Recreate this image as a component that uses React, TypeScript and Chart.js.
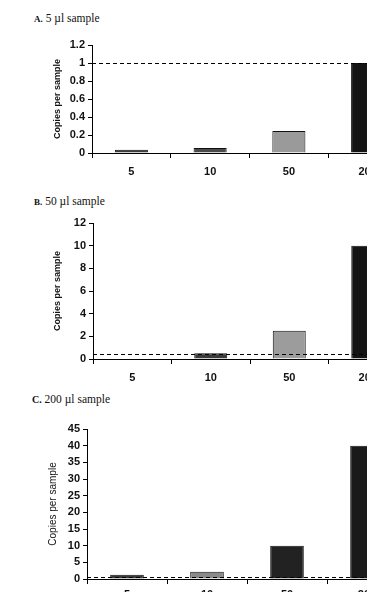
import React, { useEffect, useRef } from "react";
import { Chart, registerables } from "chart.js";
Chart.register(...registerables);

const categories = ["5", "10", "50", "200"];

const valuesA = [0.035, 0.055, 0.245, 1.0];
const valuesB = [0, 0.5, 2.5, 10];
const valuesC = [1.3, 2.2, 10, 40];

const thresholdA = 1;
const thresholdB = 0.45;
const thresholdC = 0.5;

const yMaxA = 1.2, yStepA = 0.2;
const yMaxB = 12, yStepB = 2;
const yMaxC = 45, yStepC = 5;

const titleA = "5 µl sample";
const titleB = "50 µl sample";
const titleC = "200 µl sample";
const yTitle = "Copies per sample";

const colorsA = ["#3c3c3c", "#4a4a4a", "#9a9a9a", "#141414"];
const colorsB = ["#333333", "#3a3a3a", "#9c9c9c", "#141414"];
const colorsC = ["#3a3a3a", "#8a8a8a", "#222222", "#1a1a1a"];

type PanelProps = {
  top: number;
  height: number;
  values: number[];
  colors: string[];
  threshold: number;
  yMax: number;
  yStep: number;
  padLeft: number;
  yWidth: number;
  padTop: number;
  xHeight: number;
  yTitleBold: boolean;
  yTitleSize: number;
  yTitlePad: number;
  tickSize: number;
  xLabelPad: number;
};

const dashedLine = {
  id: "dashedLine",
  afterDatasetsDraw(chart: any, _args: any, opts: any) {
    const y = chart.scales.y.getPixelForValue(opts.value);
    const ctx = chart.ctx;
    ctx.save();
    ctx.strokeStyle = "#000";
    ctx.lineWidth = 1;
    ctx.setLineDash([4, 3]);
    ctx.beginPath();
    ctx.moveTo(chart.chartArea.left, Math.round(y) + 0.5);
    ctx.lineTo(chart.chartArea.right, Math.round(y) + 0.5);
    ctx.stroke();
    ctx.restore();
  },
};

function Panel(p: PanelProps) {
  const ref = useRef<HTMLCanvasElement>(null);
  useEffect(() => {
    const chart = new Chart(ref.current!, {
      type: "bar",
      data: {
        labels: categories,
        datasets: [
          {
            data: p.values,
            backgroundColor: p.colors,
            borderColor: "#111",
            borderWidth: 1,
            barPercentage: 0.42,
            categoryPercentage: 1,
          },
        ],
      },
      plugins: [dashedLine],
      options: {
        animation: false,
        responsive: false,
        devicePixelRatio: 1,
        layout: { padding: { left: p.padLeft, top: p.padTop, right: 33, bottom: 0 } },
        plugins: {
          legend: { display: false },
          tooltip: { enabled: false },
          dashedLine: { value: p.threshold },
        } as any,
        scales: {
          x: {
            offset: true,
            grid: {
              offset: true,
              drawOnChartArea: false,
              drawTicks: true,
              tickLength: 5,
              color: "#000",
            },
            border: { color: "#000", width: 1 },
            ticks: {
              color: "#111",
              font: { family: "Liberation Sans", weight: "bold", size: p.tickSize },
              padding: p.xLabelPad,
              maxRotation: 0,
            },
            afterFit: (s: any) => {
              s.height = p.xHeight;
            },
          },
          y: {
            min: 0,
            max: p.yMax,
            ticks: {
              stepSize: p.yStep,
              color: "#111",
              font: { family: "Liberation Sans", weight: "bold", size: p.tickSize },
              padding: 3,
              callback: (v: any) => String(Number(Number(v).toFixed(2))),
            },
            grid: {
              drawOnChartArea: false,
              drawTicks: true,
              tickLength: 4,
              color: "#000",
            },
            border: { color: "#000", width: 1 },
            title: {
              display: true,
              text: yTitle,
              color: "#111",
              padding: { top: p.yTitlePad, bottom: 0 },
              font: {
                family: "Liberation Sans",
                weight: p.yTitleBold ? "bold" : "normal",
                size: p.yTitleSize,
              },
            },
            afterFit: (s: any) => {
              s.width = p.yWidth;
            },
          },
        },
      },
    } as any);
    return () => chart.destroy();
  }, []);
  return (
    <canvas
      ref={ref}
      width={440}
      height={p.height}
      style={{ position: "absolute", left: 0, top: p.top, width: 440, height: p.height }}
    />
  );
}

const titleStyle = (top: number, left: number): React.CSSProperties => ({
  position: "absolute",
  top,
  left,
  fontFamily: "Liberation Serif, serif",
  fontSize: 11.5,
  lineHeight: "12px",
  color: "#111",
  whiteSpace: "nowrap",
});

export default function App() {
  return (
    <div
      style={{
        position: "absolute",
        left: 0,
        top: 0,
        width: 367,
        height: 592,
        overflow: "hidden",
        background: "#fff",
      }}
    >
      <div style={titleStyle(12, 34)}>
        <b style={{ fontSize: 9 }}>A.</b> {titleA}
      </div>
      <Panel
        top={30}
        height={150}
        values={valuesA}
        colors={colorsA}
        threshold={thresholdA}
        yMax={yMaxA}
        yStep={yStepA}
        padLeft={48}
        yWidth={44}
        padTop={15}
        xHeight={27}
        yTitleBold={true}
        yTitleSize={9}
        yTitlePad={4}
        tickSize={11}
        xLabelPad={7}
      />
      <div style={titleStyle(195, 34)}>
        <b style={{ fontSize: 9 }}>B.</b> {titleB}
      </div>
      <Panel
        top={190}
        height={195}
        values={valuesB}
        colors={colorsB}
        threshold={thresholdB}
        yMax={yMaxB}
        yStep={yStepB}
        padLeft={48}
        yWidth={45}
        padTop={33}
        xHeight={26}
        yTitleBold={true}
        yTitleSize={9}
        yTitlePad={4}
        tickSize={11}
        xLabelPad={7}
      />
      <div style={titleStyle(393, 32)}>
        <b style={{ fontSize: 10 }}>C.</b> {titleC}
      </div>
      <Panel
        top={405}
        height={215}
        values={valuesC}
        colors={colorsC}
        threshold={thresholdC}
        yMax={yMaxC}
        yStep={yStepC}
        padLeft={44}
        yWidth={43}
        padTop={24}
        xHeight={41}
        yTitleBold={false}
        yTitleSize={10}
        yTitlePad={3}
        tickSize={11}
        xLabelPad={4}
      />
    </div>
  );
}
